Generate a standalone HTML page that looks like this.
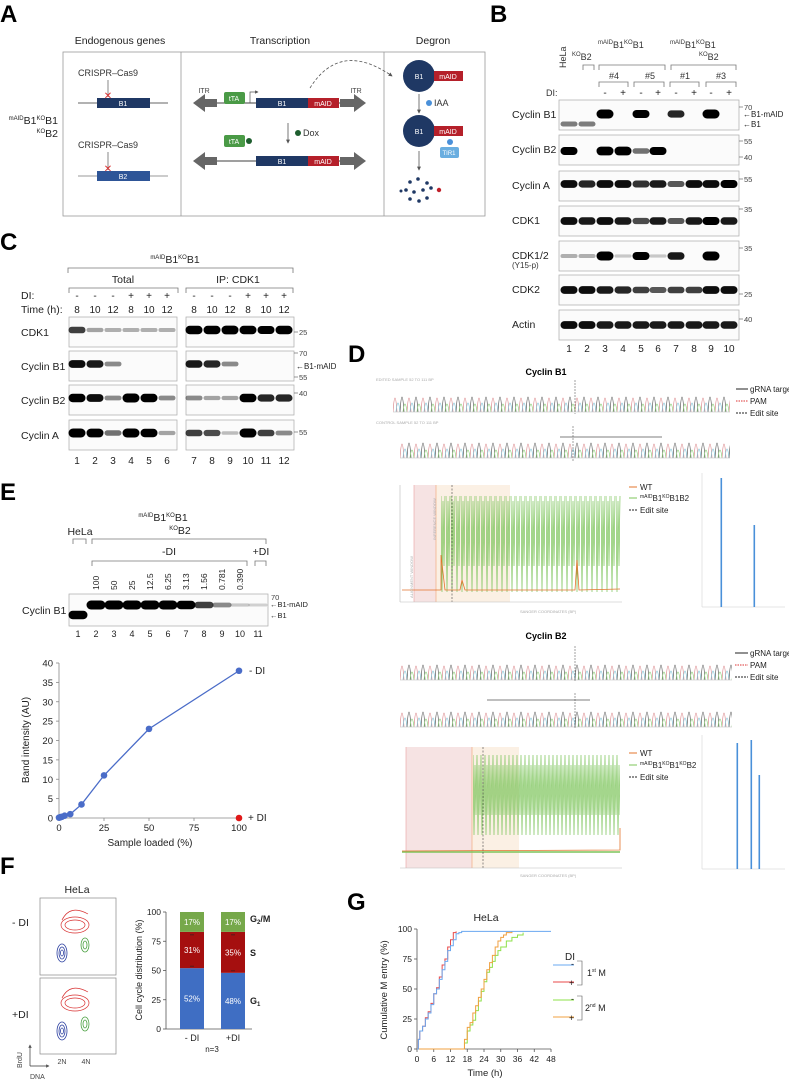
<!DOCTYPE html>
<html><head><meta charset="utf-8"><title>Figure</title>
<style>
html,body{margin:0;padding:0;background:#fff;}
svg{display:block;font-family:"Liberation Sans",Arial,sans-serif;}
.pl{font-weight:bold;font-size:24px;}
.lb{font-size:10.5px;fill:#222;}
.sm{font-size:9px;fill:#333;}
.ti{font-size:7px;fill:#444;}
.gr{font-size:4px;fill:#aaa;}
</style></head>
<body>
<svg id="fig" width="789" height="1080" viewBox="0 0 789 1080">
<defs>
<pattern id="chrom" x="0" y="0" width="14" height="30" patternUnits="userSpaceOnUse">
<path d="M0 30 Q2 2 4 30" fill="none" stroke="#d9868a" stroke-width="0.7"/>
<path d="M3 30 Q5 12 7 30" fill="none" stroke="#7fc4d8" stroke-width="0.7"/>
<path d="M7 30 Q9 0 11 30" fill="none" stroke="#555" stroke-width="0.7"/>
<path d="M10 30 Q12 14 14 30" fill="none" stroke="#8fcf7a" stroke-width="0.7"/>
</pattern>
<pattern id="greenz" x="0" y="0" width="5" height="96" patternUnits="userSpaceOnUse">
<path d="M0 0 L1 96 L2 5 L3 70 L4 0" fill="none" stroke="#7cc45a" stroke-width="0.7"/>
</pattern>
<pattern id="greenz2" x="0" y="0" width="4" height="95" patternUnits="userSpaceOnUse">
<path d="M0 0 L1 80 L2 10 L3 60 L4 0" fill="none" stroke="#7cc45a" stroke-width="0.7"/>
</pattern>
<marker id="ah" viewBox="0 0 6 6" refX="5" refY="3" markerWidth="5" markerHeight="5" orient="auto"><path d="M0 0L6 3L0 6z" fill="#555"/></marker>
</defs>

<!-- ================= PANEL A ================= -->
<g>
<text class="pl" x="0" y="22">A</text>
<text class="lb" x="120" y="44" text-anchor="middle">Endogenous genes</text>
<text class="lb" x="280" y="44" text-anchor="middle">Transcription</text>
<text class="lb" x="433" y="44" text-anchor="middle">Degron</text>
<rect x="63" y="52" width="422" height="164" fill="none" stroke="#999" stroke-width="0.8"/>
<line x1="181" y1="52" x2="181" y2="216" stroke="#999" stroke-width="0.8"/>
<line x1="384" y1="52" x2="384" y2="216" stroke="#999" stroke-width="0.8"/>
<text class="lb" x="58" y="124" text-anchor="end"><tspan font-size="6" dy="-4">mAID</tspan><tspan dy="4">B1</tspan><tspan font-size="6" dy="-4">KO</tspan><tspan dy="4">B1</tspan></text>
<text class="lb" x="58" y="137" text-anchor="end"><tspan font-size="6" dy="-4">KO</tspan><tspan dy="4">B2</tspan></text>
<text class="sm" x="78" y="76">CRISPR–Cas9</text>
<line x1="108" y1="80" x2="108" y2="97" stroke="#555" stroke-width="0.7"/>
<line x1="78" y1="103" x2="168" y2="103" stroke="#333" stroke-width="0.8"/>
<rect x="97" y="98" width="53" height="10" fill="#1f3864"/>
<text x="123" y="106" fill="#fff" font-size="7" text-anchor="middle">B1</text>
<text x="108" y="99" fill="#d33" font-size="10" text-anchor="middle">✕</text>
<text class="sm" x="78" y="148">CRISPR–Cas9</text>
<line x1="108" y1="152" x2="108" y2="170" stroke="#555" stroke-width="0.7"/>
<line x1="78" y1="176" x2="168" y2="176" stroke="#777" stroke-width="0.8"/>
<rect x="97" y="171" width="53" height="10" fill="#2e5597"/>
<text x="123" y="179" fill="#fff" font-size="7" text-anchor="middle">B2</text>
<text x="108" y="172" fill="#d33" font-size="10" text-anchor="middle">✕</text>
<g>
<polygon points="193,103 205,94 205,99 217,99 217,107 205,107 205,112" fill="#666"/>
<line x1="217" y1="103" x2="340" y2="103" stroke="#666" stroke-width="1.2"/>
<polygon points="366,103 354,94 354,99 340,99 340,107 354,107 354,112" fill="#666"/>
<rect x="256" y="98" width="52" height="10" fill="#1f3864"/><text x="282" y="106" fill="#fff" font-size="7" text-anchor="middle">B1</text>
<rect x="308" y="98" width="31" height="10" fill="#b5202a"/><text x="323" y="106" fill="#fff" font-size="7" text-anchor="middle">mAID</text>
<text class="ti" x="204" y="93" text-anchor="middle" font-size="8">ITR</text><text class="ti" x="356" y="93" text-anchor="middle" font-size="8">ITR</text>
<rect x="224" y="92" width="21" height="12" rx="2" fill="#4a9a46"/><text x="234" y="101" fill="#fff" font-size="7" text-anchor="middle">tTA</text>
<path d="M250 103 V92 H258" fill="none" stroke="#555" stroke-width="0.7" marker-end="url(#ah)"/>
<path d="M310 88 Q340 40 392 76" fill="none" stroke="#555" stroke-width="0.8" stroke-dasharray="3,2" marker-end="url(#ah)"/>
</g>
<line x1="288" y1="123" x2="288" y2="143" stroke="#555" stroke-width="0.8" marker-end="url(#ah)"/>
<circle cx="298" cy="133" r="3" fill="#1e5e2e"/><text class="sm" x="303" y="136">Dox</text>
<rect x="224" y="135" width="21" height="12" rx="2" fill="#4a9a46"/><text x="234" y="144" fill="#fff" font-size="7" text-anchor="middle">tTA</text>
<circle cx="249" cy="141" r="3" fill="#1e5e2e"/>
<g>
<polygon points="193,161 205,152 205,157 217,157 217,165 205,165 205,170" fill="#666"/>
<line x1="217" y1="161" x2="340" y2="161" stroke="#666" stroke-width="1.2"/>
<polygon points="366,161 354,152 354,157 340,157 340,165 354,165 354,170" fill="#666"/>
<rect x="256" y="156" width="52" height="10" fill="#1f3864"/><text x="282" y="164" fill="#fff" font-size="7" text-anchor="middle">B1</text>
<rect x="308" y="156" width="31" height="10" fill="#b5202a"/><text x="323" y="164" fill="#fff" font-size="7" text-anchor="middle">mAID</text>
</g>
<g>
<circle cx="419" cy="76" r="16" fill="#1f3864"/><text x="419" y="79" fill="#fff" font-size="7" text-anchor="middle">B1</text>
<rect x="434" y="71" width="29" height="10" fill="#b5202a"/><text x="448" y="79" fill="#fff" font-size="7" text-anchor="middle">mAID</text>
<line x1="419" y1="94" x2="419" y2="113" stroke="#555" stroke-width="0.8" marker-end="url(#ah)"/>
<circle cx="429" cy="103" r="3" fill="#4a90d9"/><text class="sm" x="434" y="106">IAA</text>
<circle cx="419" cy="131" r="16" fill="#1f3864"/><text x="419" y="134" fill="#fff" font-size="7" text-anchor="middle">B1</text>
<rect x="434" y="126" width="29" height="10" fill="#b5202a"/><text x="448" y="134" fill="#fff" font-size="7" text-anchor="middle">mAID</text>
<circle cx="450" cy="142" r="3" fill="#4a90d9"/>
<rect x="440" y="147" width="19" height="11" rx="2" fill="#6aaee0"/><text x="449" y="155" fill="#fff" font-size="6" text-anchor="middle">TIR1</text>
<line x1="419" y1="151" x2="419" y2="170" stroke="#555" stroke-width="0.8" marker-end="url(#ah)"/>
<g fill="#1f3864"><circle cx="410" cy="182" r="1.8"/><circle cx="418" cy="179" r="1.8"/><circle cx="427" cy="183" r="1.8"/><circle cx="406" cy="190" r="1.8"/><circle cx="414" cy="192" r="1.8"/><circle cx="423" cy="190" r="1.8"/><circle cx="431" cy="188" r="1.8"/><circle cx="410" cy="199" r="1.8"/><circle cx="419" cy="201" r="1.8"/><circle cx="427" cy="198" r="1.8"/><circle cx="401" cy="191" r="1.5"/></g>
<circle cx="439" cy="190" r="2.2" fill="#c0202a"/>
</g>
</g>

<!-- ================= PANEL B ================= -->
<g id="panelB">
<text class="pl" x="490" y="22">B</text>
<text class="sm" x="566" y="68" transform="rotate(-90 566 68)" font-size="10">HeLa</text>
<text class="sm" x="572" y="60" font-size="10"><tspan font-size="6" dy="-4">KO</tspan><tspan dy="4">B2</tspan></text>
<text class="sm" x="598" y="48" font-size="10"><tspan font-size="6" dy="-4">mAID</tspan><tspan dy="4">B1</tspan><tspan font-size="6" dy="-4">KO</tspan><tspan dy="4">B1</tspan></text>
<text class="sm" x="670" y="48" font-size="10"><tspan font-size="6" dy="-4">mAID</tspan><tspan dy="4">B1</tspan><tspan font-size="6" dy="-4">KO</tspan><tspan dy="4">B1</tspan></text>
<text class="sm" x="699" y="60" font-size="10"><tspan font-size="6" dy="-4">KO</tspan><tspan dy="4">B2</tspan></text>
<g fill="none" stroke="#777" stroke-width="0.8">
<path d="M583 70 V65 H594 V70"/><path d="M599 70 V65 H665 V70"/><path d="M671 70 V65 H736 V70"/>
<path d="M599 87 V82 H628 V87"/><path d="M634 87 V82 H664 V87"/><path d="M670 87 V82 H699 V87"/><path d="M706 87 V82 H736 V87"/>
</g>
<text class="sm" x="614" y="79" text-anchor="middle" font-size="10">#4</text>
<text class="sm" x="650" y="79" text-anchor="middle" font-size="10">#5</text>
<text class="sm" x="685" y="79" text-anchor="middle" font-size="10">#1</text>
<text class="sm" x="721" y="79" text-anchor="middle" font-size="10">#3</text>
<text class="sm" x="546" y="96" font-size="10">DI:</text>
</g>

<!-- ================= PANEL C ================= -->
<g id="panelC">
<text class="pl" x="0" y="250">C</text>
<text class="lb" x="175" y="263" text-anchor="middle"><tspan font-size="6" dy="-4">mAID</tspan><tspan dy="4">B1</tspan><tspan font-size="6" dy="-4">KO</tspan><tspan dy="4">B1</tspan></text>
<g fill="none" stroke="#777" stroke-width="0.8">
<path d="M68 273 V268 H293 V273"/><path d="M69 293 V288 H178 V293"/><path d="M186 293 V288 H293 V293"/>
</g>
<text class="lb" x="123" y="283" text-anchor="middle">Total</text>
<text class="lb" x="238" y="283" text-anchor="middle">IP: CDK1</text>
<text class="lb" x="21" y="299">DI:</text>
<text class="lb" x="21" y="313">Time (h):</text>
</g>

<!-- ================= PANEL D ================= -->
<g id="panelD">
<text class="pl" x="348" y="362">D</text>
<text x="546" y="375" text-anchor="middle" font-size="9" font-weight="bold">Cyclin B1</text>
<text x="546" y="639" text-anchor="middle" font-size="9" font-weight="bold">Cyclin B2</text>
<g><text class="gr" x="376" y="381">EDITED SAMPLE 52 TO 111 BP</text><g transform="translate(393,382)"><rect x="0" y="0" width="337" height="30" fill="url(#chrom)"/></g><line x1="393" y1="412" x2="730" y2="412" stroke="#bbb" stroke-width="0.5"/><line x1="575" y1="380" x2="575" y2="414" stroke="#444" stroke-width="0.5" stroke-dasharray="2,1"/></g>
<g><text class="gr" x="376" y="424">CONTROL SAMPLE 52 TO 111 BP</text><g transform="translate(400,428)"><rect x="0" y="0" width="330" height="30" fill="url(#chrom)"/></g><line x1="400" y1="458" x2="730" y2="458" stroke="#bbb" stroke-width="0.5"/><line x1="560" y1="437" x2="662" y2="437" stroke="#555" stroke-width="0.8"/><line x1="573" y1="426" x2="573" y2="462" stroke="#444" stroke-width="0.5" stroke-dasharray="2,1"/></g>
<g font-size="8" fill="#222">
<line x1="736" y1="389" x2="748" y2="389" stroke="#222"/><text x="750" y="392">gRNA target</text>
<line x1="736" y1="401" x2="748" y2="401" stroke="#d33" stroke-dasharray="1.5,1"/><text x="750" y="404">PAM</text>
<line x1="736" y1="413" x2="748" y2="413" stroke="#222" stroke-dasharray="2,1"/><text x="750" y="416">Edit site</text>
</g>
<g><g transform="translate(400,650)"><rect x="0" y="0" width="332" height="30" fill="url(#chrom)"/></g><line x1="400" y1="680" x2="732" y2="680" stroke="#bbb" stroke-width="0.5"/><line x1="575" y1="646" x2="575" y2="682" stroke="#444" stroke-width="0.5" stroke-dasharray="2,1"/></g>
<g><g transform="translate(400,697)"><rect x="0" y="0" width="332" height="30" fill="url(#chrom)"/></g><line x1="400" y1="727" x2="732" y2="727" stroke="#bbb" stroke-width="0.5"/><line x1="487" y1="700" x2="590" y2="700" stroke="#555" stroke-width="0.8"/><line x1="575" y1="693" x2="575" y2="729" stroke="#444" stroke-width="0.5" stroke-dasharray="2,1"/></g>
<g font-size="8" fill="#222">
<line x1="735" y1="653" x2="748" y2="653" stroke="#222"/><text x="750" y="656">gRNA target</text>
<line x1="735" y1="665" x2="748" y2="665" stroke="#d33" stroke-dasharray="1.5,1"/><text x="750" y="668">PAM</text>
<line x1="735" y1="677" x2="748" y2="677" stroke="#222" stroke-dasharray="2,1"/><text x="750" y="680">Edit site</text>
</g>
<g>
<rect x="414" y="485" width="22" height="117" fill="#f6e3e3"/><rect x="436" y="485" width="74" height="117" fill="#fbf0e4"/>
<line x1="414" y1="485" x2="414" y2="602" stroke="#e7a0a0" stroke-width="0.6"/><line x1="436" y1="485" x2="436" y2="602" stroke="#f0a070" stroke-width="0.6"/>
<g transform="translate(441,496)"><rect x="0" y="0" width="180" height="96" fill="url(#greenz)"/></g>
<path d="M402 590 L441 590 L441 555 L445 590 L460 590 L462 580 L465 590 L575 590 L577 560 L579 590 L620 589" fill="none" stroke="#e3742d" stroke-width="0.8"/>
<line x1="452" y1="485" x2="452" y2="602" stroke="#444" stroke-width="0.6" stroke-dasharray="2,1.5"/>
<line x1="400" y1="602" x2="622" y2="602" stroke="#bbb" stroke-width="0.6"/><line x1="400" y1="485" x2="400" y2="602" stroke="#bbb" stroke-width="0.6"/>
<text class="gr" x="520" y="613" font-size="4.5">SANGER COORDINATES (BP)</text>
<text class="gr" x="413" y="598" transform="rotate(-90 413 598)" fill="#e9a0a0">ALIGNMENT WINDOW</text>
<text class="gr" x="436" y="540" transform="rotate(-90 436 540)" fill="#f0b080">INFERENCE WINDOW</text>
</g>
<g font-size="8" fill="#222">
<line x1="629" y1="487" x2="637" y2="487" stroke="#e3742d"/><text x="640" y="490">WT</text>
<line x1="629" y1="498" x2="637" y2="498" stroke="#7cc45a"/><text x="640" y="501"><tspan font-size="5" dy="-3">mAID</tspan><tspan dy="3">B1</tspan><tspan font-size="5" dy="-3">KO</tspan><tspan dy="3">B1B2</tspan></text>
<line x1="629" y1="510" x2="637" y2="510" stroke="#222" stroke-dasharray="2,1"/><text x="640" y="513">Edit site</text>
</g>
<g>
<rect x="406" y="747" width="66" height="121" fill="#f6e3e3"/><rect x="472" y="747" width="47" height="121" fill="#fbf0e4"/>
<line x1="406" y1="747" x2="406" y2="868" stroke="#e7a0a0" stroke-width="0.6"/><line x1="472" y1="747" x2="472" y2="868" stroke="#f0a070" stroke-width="0.6"/>
<g transform="translate(473,755)"><rect x="0" y="0" width="147" height="95" fill="url(#greenz2)"/></g>
<path d="M402 852 L620 852" fill="none" stroke="#7cc45a" stroke-width="1.6"/>
<path d="M402 851 L620 850 L620 828" fill="none" stroke="#e3742d" stroke-width="0.8"/>
<line x1="483" y1="747" x2="483" y2="868" stroke="#444" stroke-width="0.6" stroke-dasharray="2,1.5"/>
<line x1="400" y1="868" x2="622" y2="868" stroke="#bbb" stroke-width="0.6"/>
<text class="gr" x="520" y="877" font-size="4.5">SANGER COORDINATES (BP)</text>
</g>
<g font-size="8" fill="#222">
<line x1="629" y1="753" x2="637" y2="753" stroke="#e3742d"/><text x="640" y="756">WT</text>
<line x1="629" y1="765" x2="637" y2="765" stroke="#7cc45a"/><text x="640" y="768"><tspan font-size="5" dy="-3">mAID</tspan><tspan dy="3">B1</tspan><tspan font-size="5" dy="-3">KO</tspan><tspan dy="3">B1</tspan><tspan font-size="5" dy="-3">KO</tspan><tspan dy="3">B2</tspan></text>
<line x1="629" y1="777" x2="637" y2="777" stroke="#222" stroke-dasharray="2,1"/><text x="640" y="780">Edit site</text>
</g>
<g>
<line x1="702" y1="473" x2="702" y2="607" stroke="#ccc" stroke-width="0.5"/><line x1="702" y1="607" x2="785" y2="607" stroke="#ccc" stroke-width="0.5"/>
<rect x="720.5" y="478" width="1.6" height="129" fill="#4a90d9"/><rect x="753.5" y="525" width="1.6" height="82" fill="#4a90d9"/>
</g>
<g>
<line x1="702" y1="735" x2="702" y2="869" stroke="#ccc" stroke-width="0.5"/><line x1="702" y1="869" x2="785" y2="869" stroke="#ccc" stroke-width="0.5"/>
<rect x="736.5" y="743" width="1.6" height="126" fill="#4a90d9"/><rect x="750.5" y="740" width="1.6" height="129" fill="#4a90d9"/><rect x="758.5" y="775" width="1.6" height="94" fill="#4a90d9"/>
</g>
</g>

<!-- ================= PANEL E ================= -->
<g id="panelE">
<text class="pl" x="0" y="500">E</text>
<text class="lb" x="163" y="521" text-anchor="middle"><tspan font-size="6" dy="-4">mAID</tspan><tspan dy="4">B1</tspan><tspan font-size="6" dy="-4">KO</tspan><tspan dy="4">B1</tspan></text>
<text class="lb" x="180" y="534" text-anchor="middle"><tspan font-size="6" dy="-4">KO</tspan><tspan dy="4">B2</tspan></text>
<text class="lb" x="80" y="535" text-anchor="middle">HeLa</text>
<g fill="none" stroke="#777" stroke-width="0.8">
<path d="M73 544 V539 H86 V544"/><path d="M92 544 V539 H266 V544"/><path d="M92 566 V561 H247 V566"/><path d="M255 566 V561 H266 V566"/>
</g>
<text class="lb" x="169" y="555" text-anchor="middle">-DI</text>
<text class="lb" x="261" y="555" text-anchor="middle">+DI</text>
<text class="lb" x="22" y="614">Cyclin B1</text>
</g>

<!-- ================= PANEL F ================= -->
<g id="panelF">
<text class="pl" x="0" y="874">F</text>
<text class="lb" x="77" y="893" text-anchor="middle">HeLa</text>
<g>
<rect x="40" y="898" width="76" height="77" fill="#fff" stroke="#888" stroke-width="0.7"/>
<g fill="none" stroke="#d83030" stroke-width="0.7"><ellipse cx="75" cy="925" rx="14" ry="8"/><ellipse cx="75" cy="925" rx="10" ry="5"/><path d="M62 920 Q70 904 88 914"/></g>
<g fill="none" stroke="#2b3fa0" stroke-width="0.8"><ellipse cx="62" cy="953" rx="5" ry="9"/><ellipse cx="62" cy="953" rx="3" ry="6"/><ellipse cx="62" cy="953" rx="1.5" ry="3"/></g>
<g fill="none" stroke="#4aa040" stroke-width="0.8"><ellipse cx="85" cy="945" rx="4" ry="7"/><ellipse cx="85" cy="945" rx="2" ry="4"/></g>
</g>
<g>
<rect x="40" y="978" width="76" height="76" fill="#fff" stroke="#888" stroke-width="0.7"/>
<g fill="none" stroke="#d83030" stroke-width="0.7"><ellipse cx="75" cy="1003" rx="14" ry="8"/><ellipse cx="75" cy="1003" rx="10" ry="5"/><path d="M62 998 Q70 982 88 992"/></g>
<g fill="none" stroke="#2b3fa0" stroke-width="0.8"><ellipse cx="62" cy="1031" rx="5" ry="9"/><ellipse cx="62" cy="1031" rx="3" ry="6"/><ellipse cx="62" cy="1031" rx="1.5" ry="3"/></g>
<g fill="none" stroke="#4aa040" stroke-width="0.8"><ellipse cx="85" cy="1024" rx="4" ry="7"/><ellipse cx="85" cy="1024" rx="2" ry="4"/></g>
</g>
<text class="lb" x="12" y="926">- DI</text>
<text class="lb" x="12" y="1018">+DI</text>
<line x1="30" y1="1066" x2="30" y2="1045" stroke="#333" stroke-width="0.7" marker-end="url(#ah)"/>
<line x1="30" y1="1066" x2="49" y2="1066" stroke="#333" stroke-width="0.7" marker-end="url(#ah)"/>
<text class="ti" x="22" y="1068" transform="rotate(-90 22 1068)" font-size="8">BrdU</text>
<text class="ti" x="30" y="1079" font-size="8">DNA</text>
<text class="ti" x="62" y="1064" text-anchor="middle" font-size="8">2N</text>
<text class="ti" x="86" y="1064" text-anchor="middle" font-size="8">4N</text>
<g id="fchart"></g>
</g>

<!-- ================= PANEL G ================= -->
<g id="panelG">
<text class="pl" x="347" y="910">G</text>
<text class="lb" x="486" y="921" text-anchor="middle">HeLa</text>
<g id="gchart"></g>
<g font-size="10" fill="#222">
<text x="570" y="960" text-anchor="middle">DI</text>
<line x1="553" y1="965" x2="574" y2="965" stroke="#6aa8f0" stroke-width="1"/><text x="571" y="967" font-size="9">-</text>
<line x1="553" y1="982" x2="574" y2="982" stroke="#e84a4a" stroke-width="1"/><text x="569" y="986" font-size="9">+</text>
<path d="M577 961 H582 V985 H577" fill="none" stroke="#555" stroke-width="0.6"/>
<text x="587" y="976" font-size="9">1<tspan font-size="5" dy="-4">st</tspan><tspan dy="4"> M</tspan></text>
<line x1="553" y1="1000" x2="574" y2="1000" stroke="#8ee04a" stroke-width="1"/><text x="571" y="1002" font-size="9">-</text>
<line x1="553" y1="1017" x2="574" y2="1017" stroke="#f0a040" stroke-width="1"/><text x="569" y="1021" font-size="9">+</text>
<path d="M577 996 H582 V1020 H577" fill="none" stroke="#555" stroke-width="0.6"/>
<text x="585" y="1011" font-size="9">2<tspan font-size="5" dy="-4">nd</tspan><tspan dy="4"> M</tspan></text>
</g>
</g>

<g id="panelEchart"></g>
<g id="blots"></g>
</svg>

<script>
// ---------------- DATA ----------------
const eLoaded = [0, 0.39, 0.781, 1.56, 3.13, 6.25, 12.5, 25, 50, 100];
const eIntensity = [0.1, 0.15, 0.2, 0.3, 0.6, 1.0, 3.5, 11, 23, 38];
const eDI = [100];
const eDIIntensity = [0];
const eXTicks = [0, 25, 50, 75, 100];
const eYTicks = [0, 5, 10, 15, 20, 25, 30, 35, 40];
const eConcLabels = ["100", "50", "25", "12.5", "6.25", "3.13", "1.56", "0.781", "0.390"];

const fCategories = ["- DI", "+DI"];
const fG1 = [52, 48];
const fS = [31, 35];
const fG2M = [17, 17];
const fYTicks = [0, 25, 50, 75, 100];

const g1stMinusT = [0, 0.5, 1, 2, 3, 4, 5, 6, 7, 8, 9, 10, 11, 12, 13, 14, 15, 16, 48];
const g1stMinusP = [0, 8, 15, 19, 25, 30, 37, 46, 50, 58, 66, 73, 82, 86, 91, 96, 97, 98, 98];
const g1stPlusT = [0, 0.5, 1, 2, 3, 4, 5, 6, 7, 8, 9, 10, 11, 12, 13, 14];
const g1stPlusP = [0, 8, 15, 19, 26, 31, 38, 46, 51, 60, 70, 75, 85, 91, 97, 98];
const g2ndMinusT = [0, 16, 17, 18, 19, 20, 21, 22, 23, 24, 25, 26, 27, 28, 29, 30, 32, 34, 36, 38];
const g2ndMinusP = [0, 0, 5, 15, 20, 24, 32, 40, 48, 56, 64, 68, 73, 78, 82, 85, 90, 93, 95, 97];
const g2ndPlusT = [0, 15.5, 17, 18, 19, 20, 21, 22, 23, 24, 25, 26, 27, 28, 29, 30, 31, 32, 34];
const g2ndPlusP = [0, 0, 8, 18, 22, 30, 36, 43, 50, 58, 66, 72, 78, 85, 90, 93, 95, 97, 98];
const gXTicks = [0, 6, 12, 18, 24, 30, 36, 42, 48];
const gYTicks = [0, 25, 50, 75, 100];

const bRows = ["Cyclin B1", "Cyclin B2", "Cyclin A", "CDK1", "CDK1/2", "CDK2", "Actin"];
const bCycB1 = [0.35, 0.35, 1, 0, 0.85, 0, 0.7, 0, 1, 0];
const bCycB2 = [0.85, 0, 0.95, 0.95, 0.4, 0.85, 0, 0, 0, 0];
const bCycA = [0.8, 0.7, 0.8, 0.8, 0.65, 0.75, 0.5, 0.8, 0.8, 0.85];
const bCDK1 = [0.8, 0.75, 0.8, 0.75, 0.55, 0.75, 0.5, 0.75, 0.85, 0.75];
const bCDK12 = [0.15, 0.15, 1, 0.05, 0.85, 0.05, 0.75, 0, 1, 0];
const bCDK2 = [0.8, 0.8, 0.75, 0.7, 0.6, 0.5, 0.6, 0.6, 0.8, 0.8];
const bActin = [0.8, 0.8, 0.75, 0.75, 0.75, 0.75, 0.75, 0.75, 0.75, 0.75];
const cRows = ["CDK1", "Cyclin B1", "Cyclin B2", "Cyclin A"];
const cCDK1 = [0.6, 0.2, 0.15, 0.15, 0.15, 0.15, 0.9, 0.9, 0.95, 0.9, 0.85, 0.9];
const cCycB1 = [0.8, 0.75, 0.3, 0, 0, 0, 0.75, 0.7, 0.3, 0, 0, 0];
const cCycB2 = [0.9, 0.8, 0.3, 1, 0.9, 0.3, 0.3, 0.2, 0.2, 0.9, 0.7, 0.7];
const cCycA = [1, 0.95, 0.4, 1, 0.9, 0.2, 0.6, 0.55, 0.1, 1, 0.6, 0.3];
const cDI = ["-", "-", "-", "+", "+", "+", "-", "-", "-", "+", "+", "+"];
const cTime = ["8", "10", "12", "8", "10", "12", "8", "10", "12", "8", "10", "12"];
const eBlot = [0.9, 1, 1, 1, 1, 1, 0.9, 0.6, 0.3, 0.05, 0.02];

// ---------------- HELPERS ----------------
const NS = "http://www.w3.org/2000/svg";
function mk(tag, attrs, parent, name) {
  const el = document.createElementNS(NS, tag);
  for (const k in attrs) el.setAttribute(k, attrs[k]);
  
  
  parent.appendChild(el);
  return el;
}
function txt(s, attrs, parent, name) {
  const t = mk("text", attrs, parent, name);
  t.textContent = s;
  return t;
}

// ---------------- BLOTS ----------------
const blots = document.getElementById("blots");
function band(parent, cx, cy, w, val, name) {
  if (val <= 0.01) return;
  const h = 3 + 6 * val;
  mk("rect", {x: cx - w / 2, y: cy - h / 2, width: w, height: h, rx: h / 2, fill: "#000", opacity: Math.min(1, 0.15 + val)}, parent, name);
}
const bLaneX = [569, 587, 605, 623, 641, 658, 676, 694, 711, 729];
const bRowTop = [100, 135, 171, 206, 241, 275, 310];
const bRowData = [bCycB1, bCycB2, bCycA, bCDK1, bCDK12, bCDK2, bActin];
const bBandY = [114, 151, 184, 221, 256, 290, 325];
bRows.forEach((r, i) => {
  mk("rect", {x: 559, y: bRowTop[i], width: 180, height: 30, fill: "#fbfbfb", stroke: "#aaa", "stroke-width": 0.7}, blots, "blot-b-" + r.toLowerCase().replace(/[^a-z0-9]+/g, "-"));
  txt(r, {x: 512, y: bRowTop[i] + 18, "font-size": 10.5, fill: "#222"}, blots, "row-label-b");
  bRowData[i].forEach((v, j) => {
    const yy = (i === 0 && j < 2) ? 124 : bBandY[i];
    band(blots, bLaneX[j], yy, 17, v, "band-b");
  });
});
txt("(Y15-p)", {x: 512, y: 268, "font-size": 8, fill: "#333"}, blots, "y15p-label");
bLaneX.forEach((x, j) => {
  txt(String(j + 1), {x: x, y: 352, "text-anchor": "middle", "font-size": 10, fill: "#222"}, blots, "lane-number-b");
  if (j >= 2) txt(j % 2 === 0 ? "-" : "+", {x: x, y: 96, "text-anchor": "middle", "font-size": 10, fill: "#222"}, blots, "di-sign-b");
});
const bMW = [["70", 107], ["55", 141], ["40", 157], ["55", 179], ["35", 209], ["35", 248], ["25", 294], ["40", 319]];
bMW.forEach(m => {
  mk("line", {x1: 739, y1: m[1], x2: 743, y2: m[1], stroke: "#555", "stroke-width": 0.6}, blots, "mw-tick");
  txt(m[0], {x: 744, y: m[1] + 3, "font-size": 7.5, fill: "#444"}, blots, "mw-label");
});
txt("←B1-mAID", {x: 743, y: 117, "font-size": 8, fill: "#222"}, blots, "b1-maid-arrow");
txt("←B1", {x: 743, y: 127, "font-size": 8, fill: "#222"}, blots, "b1-arrow");

const cLaneX = [77, 95, 113, 131, 149, 167, 194, 212, 230, 248, 266, 284];
const cRowTop = [317, 351, 385, 420];
const cRowData = [cCDK1, cCycB1, cCycB2, cCycA];
cRows.forEach((r, i) => {
  mk("rect", {x: 69, y: cRowTop[i], width: 108, height: 30, fill: "#fbfbfb", stroke: "#aaa", "stroke-width": 0.7}, blots, "blot-c-total");
  mk("rect", {x: 186, y: cRowTop[i], width: 108, height: 30, fill: "#fbfbfb", stroke: "#aaa", "stroke-width": 0.7}, blots, "blot-c-ip");
  txt(r, {x: 21, y: cRowTop[i] + 19, "font-size": 10.5, fill: "#222"}, blots, "row-label-c");
  cRowData[i].forEach((v, j) => band(blots, cLaneX[j], cRowTop[i] + 13, 17, v, "band-c"));
});
cLaneX.forEach((x, j) => {
  txt(String(j + 1), {x: x, y: 464, "text-anchor": "middle", "font-size": 10, fill: "#222"}, blots, "lane-number-c");
  txt(cDI[j], {x: x, y: 299, "text-anchor": "middle", "font-size": 10, fill: "#222"}, blots, "di-sign-c");
  txt(cTime[j], {x: x, y: 313, "text-anchor": "middle", "font-size": 10, fill: "#222"}, blots, "time-label-c");
});
[["25", 332], ["70", 353], ["55", 377], ["40", 393], ["55", 432]].forEach(m => {
  mk("line", {x1: 294, y1: m[1], x2: 298, y2: m[1], stroke: "#555", "stroke-width": 0.6}, blots, "mw-tick-c");
  txt(m[0], {x: 299, y: m[1] + 3, "font-size": 7.5, fill: "#444"}, blots, "mw-label-c");
});
txt("←B1-mAID", {x: 296, y: 369, "font-size": 8, fill: "#222"}, blots, "b1-maid-arrow-c");

const eLaneX = [78, 96, 114, 132, 150, 168, 186, 204, 222, 240, 258];
mk("rect", {x: 69, y: 594, width: 199, height: 32, fill: "#fbfbfb", stroke: "#aaa", "stroke-width": 0.7}, blots, "blot-e");
eBlot.forEach((v, j) => band(blots, eLaneX[j], j === 0 ? 615 : 605, 19, v, "band-e"));
eLaneX.forEach((x, j) => txt(String(j + 1), {x: x, y: 637, "text-anchor": "middle", "font-size": 9, fill: "#222"}, blots, "lane-number-e"));
eConcLabels.forEach((s, j) => txt(s, {x: eLaneX[j + 1] + 3, y: 590, "font-size": 8.5, fill: "#222", transform: "rotate(-90 " + (eLaneX[j + 1] + 3) + " 590)"}, blots, "conc-label"));
txt("70", {x: 271, y: 600, "font-size": 7.5, fill: "#444"}, blots, "mw-label-e");
txt("←B1-mAID", {x: 270, y: 607, "font-size": 7.5, fill: "#222"}, blots, "b1-maid-arrow-e");
txt("←B1", {x: 270, y: 618, "font-size": 7.5, fill: "#222"}, blots, "b1-arrow-e");

// ---------------- PANEL E CHART ----------------
const ec = document.getElementById("panelEchart");
const xE = v => 59 + v * 1.8;
const yE = v => 818 - v * 3.875;
mk("line", {x1: 59, y1: 663, x2: 59, y2: 818, stroke: "#888", "stroke-width": 0.8}, ec, "e-y-axis");
mk("line", {x1: 59, y1: 818, x2: 239, y2: 818, stroke: "#888", "stroke-width": 0.8}, ec, "e-x-axis");
eYTicks.forEach(t => {
  mk("line", {x1: 56, y1: yE(t), x2: 59, y2: yE(t), stroke: "#888", "stroke-width": 0.8}, ec, "e-y-tick");
  txt(String(t), {x: 53, y: yE(t) + 3.5, "text-anchor": "end", "font-size": 9.5, fill: "#222"}, ec, "e-y-tick-label");
});
eXTicks.forEach(t => {
  mk("line", {x1: xE(t), y1: 818, x2: xE(t), y2: 821, stroke: "#888", "stroke-width": 0.8}, ec, "e-x-tick");
  txt(String(t), {x: xE(t), y: 831, "text-anchor": "middle", "font-size": 9.5, fill: "#222"}, ec, "e-x-tick-label");
});
txt("Sample loaded (%)", {x: 150, y: 846, "text-anchor": "middle", "font-size": 10, fill: "#222"}, ec, "e-x-axis-title");
txt("Band intensity (AU)", {x: 29, y: 740, "text-anchor": "middle", "font-size": 10, fill: "#222", transform: "rotate(-90 29 740)"}, ec, "e-y-axis-title");
mk("polyline", {points: eLoaded.map((v, i) => xE(v) + "," + yE(eIntensity[i])).join(" "), fill: "none", stroke: "#4a6cc8", "stroke-width": 1.3}, ec, "e-line-minus-di");
eLoaded.forEach((v, i) => mk("circle", {cx: xE(v), cy: yE(eIntensity[i]), r: 3.3, fill: "#4a6cc8"}, ec, "e-point-minus-di"));
eDI.forEach((v, i) => mk("circle", {cx: xE(v), cy: yE(eDIIntensity[i]), r: 3.3, fill: "#e01818"}, ec, "e-point-plus-di"));
txt("- DI", {x: 249, y: 674, "font-size": 10, fill: "#222"}, ec, "e-label-minus-di");
txt("+ DI", {x: 248, y: 821, "font-size": 10, fill: "#222"}, ec, "e-label-plus-di");

// ---------------- PANEL F CHART ----------------
const fc = document.getElementById("fchart");
const yF = v => 1029 - v * 1.17;
const fBarX = [180, 221];
const fW = 24;
mk("line", {x1: 166, y1: 912, x2: 166, y2: 1029, stroke: "#555", "stroke-width": 0.8}, fc, "f-y-axis");
mk("line", {x1: 166, y1: 1029, x2: 252, y2: 1029, stroke: "#555", "stroke-width": 0.8}, fc, "f-x-axis");
fYTicks.forEach(t => {
  mk("line", {x1: 163, y1: yF(t), x2: 166, y2: yF(t), stroke: "#555", "stroke-width": 0.8}, fc, "f-y-tick");
  txt(String(t), {x: 161, y: yF(t) + 3, "text-anchor": "end", "font-size": 8.5, fill: "#222"}, fc, "f-y-tick-label");
});
fCategories.forEach((c, i) => {
  const x = fBarX[i];
  const g1 = fG1[i], s = fS[i], g2 = fG2M[i];
  mk("rect", {x: x, y: yF(g1), width: fW, height: yF(0) - yF(g1), fill: "#3f6ec3"}, fc, "f-bar-g1");
  mk("rect", {x: x, y: yF(g1 + s), width: fW, height: yF(g1) - yF(g1 + s), fill: "#a50f0f"}, fc, "f-bar-s");
  mk("rect", {x: x, y: yF(g1 + s + g2), width: fW, height: yF(g1 + s) - yF(g1 + s + g2), fill: "#76a84a"}, fc, "f-bar-g2m");
  txt(g1 + "%", {x: x + fW / 2, y: yF(g1 / 2) + 3, "text-anchor": "middle", "font-size": 8, fill: "#fff"}, fc, "f-value-g1");
  txt(s + "%", {x: x + fW / 2, y: yF(g1 + s / 2) + 3, "text-anchor": "middle", "font-size": 8, fill: "#fff"}, fc, "f-value-s");
  txt(g2 + "%", {x: x + fW / 2, y: yF(g1 + s + g2 / 2) + 3, "text-anchor": "middle", "font-size": 8, fill: "#fff"}, fc, "f-value-g2m");
  mk("line", {x1: x + fW / 2 - 2, y1: yF(g1) - 2, x2: x + fW / 2 + 2, y2: yF(g1) - 2, stroke: "#222", "stroke-width": 0.6}, fc, "f-error-bar");
  mk("line", {x1: x + fW / 2 - 2, y1: yF(g1 + s) + 3, x2: x + fW / 2 + 2, y2: yF(g1 + s) + 3, stroke: "#222", "stroke-width": 0.6}, fc, "f-error-bar");
  txt(c, {x: x + fW / 2, y: 1041, "text-anchor": "middle", "font-size": 9, fill: "#222"}, fc, "f-x-label");
});
txt("n=3", {x: 212, y: 1052, "text-anchor": "middle", "font-size": 8, fill: "#222"}, fc, "f-n-label");
txt("Cell cycle distribution (%)", {x: 142, y: 970, "text-anchor": "middle", "font-size": 9, fill: "#222", transform: "rotate(-90 142 970)"}, fc, "f-y-axis-title");
const g2lab = txt("", {x: 250, y: 922, "font-size": 9, "font-weight": "bold", fill: "#222"}, fc, "f-legend-g2m");
g2lab.innerHTML = 'G<tspan font-size="6" dy="2">2</tspan><tspan dy="-2">/M</tspan>';
txt("S", {x: 250, y: 956, "font-size": 9, "font-weight": "bold", fill: "#222"}, fc, "f-legend-s");
const g1lab = txt("", {x: 250, y: 1004, "font-size": 9, "font-weight": "bold", fill: "#222"}, fc, "f-legend-g1");
g1lab.innerHTML = 'G<tspan font-size="6" dy="2">1</tspan>';

// ---------------- PANEL G CHART ----------------
const gc = document.getElementById("gchart");
const xG = t => 417 + t * 2.792;
const yG = p => 1049 - p * 1.2;
mk("line", {x1: 417, y1: 929, x2: 417, y2: 1049, stroke: "#555", "stroke-width": 0.8}, gc, "g-y-axis");
mk("line", {x1: 417, y1: 1049, x2: 551, y2: 1049, stroke: "#555", "stroke-width": 0.8}, gc, "g-x-axis");
gYTicks.forEach(t => {
  mk("line", {x1: 414, y1: yG(t), x2: 417, y2: yG(t), stroke: "#555", "stroke-width": 0.8}, gc, "g-y-tick");
  txt(String(t), {x: 412, y: yG(t) + 3, "text-anchor": "end", "font-size": 8.5, fill: "#222"}, gc, "g-y-tick-label");
});
gXTicks.forEach(t => {
  mk("line", {x1: xG(t), y1: 1049, x2: xG(t), y2: 1052, stroke: "#555", "stroke-width": 0.8}, gc, "g-x-tick");
  txt(String(t), {x: xG(t), y: 1062, "text-anchor": "middle", "font-size": 8.5, fill: "#222"}, gc, "g-x-tick-label");
});
txt("Time (h)", {x: 485, y: 1076, "text-anchor": "middle", "font-size": 9.5, fill: "#222"}, gc, "g-x-axis-title");
txt("Cumulative M entry (%)", {x: 387, y: 990, "text-anchor": "middle", "font-size": 9.5, fill: "#222", transform: "rotate(-90 387 990)"}, gc, "g-y-axis-title");
function stepPath(ts, ps) {
  let d = "M" + xG(ts[0]) + " " + yG(ps[0]);
  for (let i = 1; i < ts.length; i++) d += " H" + xG(ts[i]) + " V" + yG(ps[i]);
  return d;
}
mk("path", {d: stepPath(g2ndMinusT, g2ndMinusP), fill: "none", stroke: "#8ee04a", "stroke-width": 1}, gc, "g-curve-2nd-minus");
mk("path", {d: stepPath(g2ndPlusT, g2ndPlusP), fill: "none", stroke: "#f0a040", "stroke-width": 1}, gc, "g-curve-2nd-plus");
mk("path", {d: stepPath(g1stPlusT, g1stPlusP), fill: "none", stroke: "#e84a4a", "stroke-width": 1}, gc, "g-curve-1st-plus");
mk("path", {d: stepPath(g1stMinusT, g1stMinusP), fill: "none", stroke: "#6aa8f0", "stroke-width": 1}, gc, "g-curve-1st-minus");
</script>
</body></html>
